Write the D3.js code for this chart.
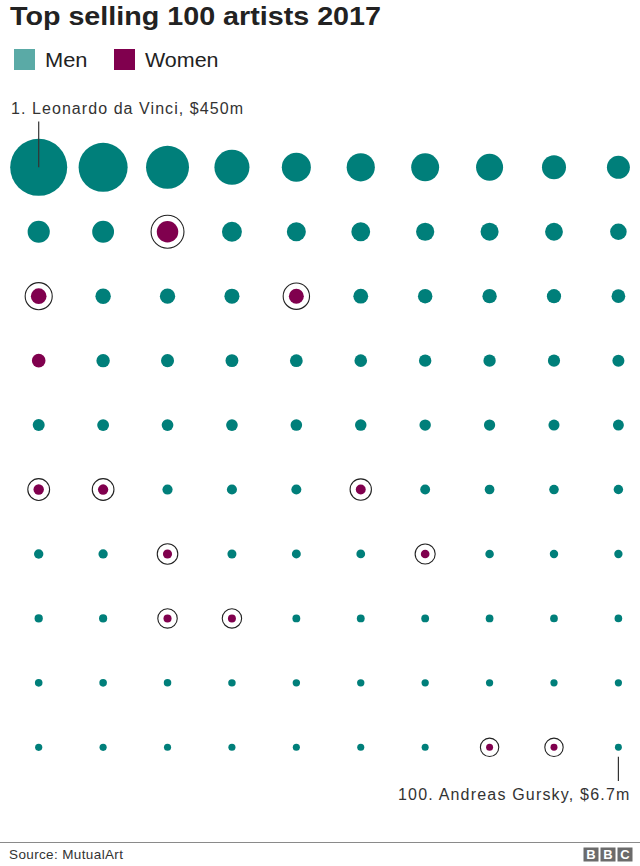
<!DOCTYPE html>
<html>
<head>
<meta charset="utf-8">
<script src="https://cdn.jsdelivr.net/npm/d3@7"></script>
<style>
  html, body { margin: 0; padding: 0; background: #fff; }
  svg { display: block; font-family: "Liberation Sans", Arial, Helvetica, sans-serif; }
</style>
</head>
<body>
<svg id="chart" width="640" height="866"></svg>
<script>
// ---- Data (sales in $m, ranks 1..100) ----
const title = "Top selling 100 artists 2017";
const legendLabels = ["Men", "Women"];
const sales = [
  450, 333, 256, 170, 117, 110, 108, 101, 80, 73,
  68, 66, 64, 55, 50, 49, 46, 45, 44, 38,
  34, 33, 32.5, 31.5, 31, 30.5, 29, 28.5, 28, 26,
  25.5, 25, 23.5, 23, 22.5, 22, 21.5, 21, 20.5, 20,
  19.8, 19.5, 19, 18.8, 18.5, 18.2, 18, 17.5, 17, 16.5,
  15, 14.7, 14.4, 14.2, 14, 13.7, 13.4, 13, 12.7, 12.4,
  12.2, 12, 11.6, 11.3, 11, 10.7, 10.4, 10.1, 9.8, 9.6,
  9.4, 9.2, 9, 8.8, 8.6, 8.5, 8.4, 8.3, 8.2, 8.1,
  8.0, 7.9, 7.8, 7.7, 7.6, 7.5, 7.4, 7.3, 7.25, 7.2,
  7.15, 7.1, 7.05, 7.0, 6.95, 6.9, 6.85, 6.8, 6.75, 6.7
];
const womenRanks = [13, 21, 25, 31, 51, 52, 56, 63, 67, 73, 74, 98, 99];
const ringedRanks = [13, 21, 25, 51, 52, 56, 63, 67, 73, 74, 98, 99];
const firstLabel = "1. Leonardo da Vinci, $450m";
const lastLabel = "100. Andreas Gursky, $6.7m";
const source = "Source: MutualArt";

// ---- Setup ----
const W = 640, H = 866;
const svg = d3.select("#chart");
const colMen = "#007f7a", colWomen = "#80004e", colMenLegend = "#5aaaa6";
const ink = "#333";

const cols = d3.range(10), rows = d3.range(10);
const x = d3.scalePoint().domain(cols).range([38.7, 618.4]);
const y = d3.scalePoint().domain(rows).range([167.3, 747.3]);
const r = d3.scaleSqrt().domain([0, 450]).range([0, 28.5]);

const data = sales.map((v, i) => ({
  rank: i + 1, value: v, col: i % 10, row: Math.floor(i / 10),
  woman: womenRanks.includes(i + 1), ring: ringedRanks.includes(i + 1)
}));

// Title
svg.append("text").attr("x", 10).attr("y", 24.5)
  .attr("font-size", 26.5).attr("font-weight", "bold").attr("fill", "#222")
  .attr("textLength", 371).attr("lengthAdjust", "spacingAndGlyphs")
  .text(title);

// Legend
const lg = svg.append("g");
const legendColors = [colMenLegend, colWomen];
const legendX = [14, 114];
const legendW = [42.5, 73.5];
legendLabels.forEach((l, i) => {
  lg.append("rect").attr("x", legendX[i]).attr("y", 49).attr("width", 21).attr("height", 21)
    .attr("fill", legendColors[i]);
  lg.append("text").attr("x", legendX[i] + 31).attr("y", 66.5)
    .attr("font-size", 20).attr("fill", "#222")
    .attr("textLength", legendW[i]).attr("lengthAdjust", "spacingAndGlyphs").text(l);
});

// Rings
svg.append("g").selectAll("circle").data(data.filter(d => d.ring)).join("circle")
  .attr("cx", d => x(d.col)).attr("cy", d => y(d.row))
  .attr("r", d => r(d.value) + 5.7)
  .attr("fill", "none").attr("stroke", "#222").attr("stroke-width", 1.1);

// Circles
svg.append("g").selectAll("circle").data(data).join("circle")
  .attr("cx", d => x(d.col)).attr("cy", d => y(d.row))
  .attr("r", d => r(d.value))
  .attr("fill", d => d.woman ? colWomen : colMen);

// Annotations
const first = data[0], last = data[data.length - 1];
svg.append("line").attr("x1", x(first.col)).attr("x2", x(first.col))
  .attr("y1", 121.5).attr("y2", y(first.row)).attr("stroke", ink).attr("stroke-width", 1.2);
svg.append("text").attr("x", 11).attr("y", 114).attr("font-size", 16).attr("fill", ink)
  .attr("textLength", 232).attr("lengthAdjust", "spacing")
  .text(firstLabel);

svg.append("line").attr("x1", x(last.col)).attr("x2", x(last.col))
  .attr("y1", y(last.row) + r(last.value) + 6).attr("y2", 781).attr("stroke", ink).attr("stroke-width", 1.2);
svg.append("text").attr("x", 398).attr("y", 799.5).attr("font-size", 16).attr("fill", ink)
  .attr("textLength", 231.3).attr("lengthAdjust", "spacing").text(lastLabel);

// Footer
svg.append("line").attr("x1", 0).attr("x2", W).attr("y1", 842.5).attr("y2", 842.5)
  .attr("stroke", "#8a8a8a").attr("stroke-width", 1);
svg.append("text").attr("x", 9).attr("y", 858.5).attr("font-size", 13.5).attr("fill", ink)
  .attr("textLength", 114).attr("lengthAdjust", "spacing")
  .text(source);

const bbc = svg.append("g");
["B", "B", "C"].forEach((c, i) => {
  const bx = 583.5 + i * 17;
  bbc.append("rect").attr("x", bx).attr("y", 847.5).attr("width", 15).attr("height", 14)
    .attr("fill", "#6b6b6b");
  bbc.append("text").attr("x", bx + 7.5).attr("y", 859.3).attr("text-anchor", "middle")
    .attr("font-size", 13).attr("font-weight", "bold").attr("fill", "#fff").text(c);
});
</script>
</body>
</html>
